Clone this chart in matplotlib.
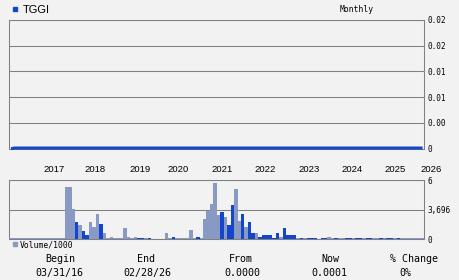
import matplotlib
matplotlib.use('Agg')
import matplotlib.pyplot as plt
import matplotlib.ticker as mticker
from matplotlib.patches import Rectangle
import numpy as np

# --- data (monthly, 03/2016 .. 02/2026) ---
symbol = "TGGI"
price = [
    0.0000, 0.0001, 0.0001, 0.0001, 0.0001, 0.0001, 0.0001, 0.0001, 0.0001, 0.0001, 0.0001, 0.0001,
    0.0001, 0.0001, 0.0001, 0.0001, 0.0001, 0.0001, 0.0001, 0.0001, 0.0001, 0.0001, 0.0001, 0.0001,
    0.0001, 0.0001, 0.0001, 0.0001, 0.0001, 0.0001, 0.0001, 0.0001, 0.0001, 0.0001, 0.0001, 0.0001,
    0.0001, 0.0001, 0.0001, 0.0001, 0.0001, 0.0001, 0.0001, 0.0001, 0.0001, 0.0001, 0.0001, 0.0001,
    0.0001, 0.0001, 0.0001, 0.0001, 0.0001, 0.0001, 0.0001, 0.0001, 0.0001, 0.0001, 0.0001, 0.0001,
    0.0001, 0.0001, 0.0001, 0.0001, 0.0001, 0.0001, 0.0001, 0.0001, 0.0001, 0.0001, 0.0001, 0.0001,
    0.0001, 0.0001, 0.0001, 0.0001, 0.0001, 0.0001, 0.0001, 0.0001, 0.0001, 0.0001, 0.0001, 0.0001,
    0.0001, 0.0001, 0.0001, 0.0001, 0.0001, 0.0001, 0.0001, 0.0001, 0.0001, 0.0001, 0.0001, 0.0001,
    0.0001, 0.0001, 0.0001, 0.0001, 0.0001, 0.0001, 0.0001, 0.0001, 0.0001, 0.0001, 0.0001, 0.0001,
    0.0001, 0.0001, 0.0001, 0.0001, 0.0001, 0.0001, 0.0001, 0.0001, 0.0001, 0.0001, 0.0001, 0.0001,
]
volume = [  # volume / 1000
    89, 89, 89, 89, 89, 89, 89, 89, 89, 89, 89, 89, 89, 89, 89, 89,
    6579, 6579, 3770, 2070, 1700, 1035, 444, 2144, 1552, 3179,
    1922, 813, 148, 296, 148, 89, 89, 1404, 296, 89,
    296, 89, 89, 89, 148, 59, 59, 59, 59, 813,
    89, 296, 74, 74, 74, 74, 1183, 89, 296, 89,
    2513, 3548, 4435, 7022, 3031, 3326, 2809, 1700, 4287, 6283,
    2292, 3179, 1552, 2070, 813, 813, 296, 444, 444, 444,
    148, 813, 296, 1331, 444, 444, 517, 148, 148, 89,
    74, 74, 74, 59, 74, 148, 222, 148, 74, 74,
    111, 74, 89, 74, 89, 89, 74, 111, 111, 74,
    89, 111, 74, 89, 89, 74, 111, 74, 111, 111,
    111, 111, 111, 111,
]
direction = ("DDDDDDDDDDDDDDDD"
             "DDDUDUUDDD" "UDDDDDDDDD" "DUUDUDDDDD" "DUDDDDDDUD"
             "DDDDDUDUUD" "DUDUUDUUUU" "UUDUUUUDUD" "UUUDUUDDUD"
             "DUUDUUDUUD" "DUDUUDUDDD" "DDDD")
years = ["2017", "2018", "2019", "2020", "2021", "2022", "2023", "2024", "2025", "2026"]
year_pos = [12.9, 24.9, 37.7, 48.8, 61.6, 74.1, 86.6, 99.2, 111.7, 122.0]
price_ticks = [0, 0.004, 0.008, 0.012, 0.016, 0.02]
vol_ticks = [0, 3696, 7392]
vol_labels = ["0", "3,696", "6"]
summary_heads = ["Begin", "End", "From", "Now", "% Change"]
summary_vals = ["03/31/16", "02/28/26", "0.0000", "0.0001", "0%"]

BG = "#f2f2f2"
GRID = "#808080"
C_UP = "#1446cc"
C_DN = "#8899c4"
C_LINE = "#1446cc"
MONO = "DejaVu Sans Mono"

n = len(volume)
x = np.arange(n) + 0.5
bar_colors = [C_UP if d == "U" else C_DN for d in direction]

fig = plt.figure(figsize=(4.6, 2.8), dpi=100, facecolor=BG)

# --- price panel ---
ax = fig.add_axes([0.0202, 0.469, 0.9022, 0.4596], facecolor=BG)
ax.plot(x, price, color=C_LINE, lw=2.2, solid_capstyle="butt", zorder=3, clip_on=False)
ax.set_xlim(0, n)
ax.set_ylim(0, 0.02)
ax.set_yticks(price_ticks)
ax.yaxis.set_major_formatter(mticker.FuncFormatter(lambda v, _: "0" if v == 0 else f"{v:.2f}"))
ax.yaxis.tick_right()
ax.tick_params(axis="y", length=0, pad=2.5, labelsize=5.6, labelfontfamily=MONO)
ax.set_xticks([])
ax.grid(axis="y", color=GRID, lw=0.75)
for s in ax.spines.values():
    s.set_color(GRID)
    s.set_linewidth(0.75)

# --- volume panel ---
av = fig.add_axes([0.0202, 0.1464, 0.9022, 0.2107], facecolor=BG)
av.bar(x, volume, width=1.0, color=bar_colors, linewidth=0, zorder=3)
av.set_xlim(0, n)
av.set_ylim(0, vol_ticks[-1])
av.set_yticks(vol_ticks)
av.set_yticklabels(vol_labels)
av.yaxis.tick_right()
av.tick_params(axis="y", length=0, pad=2.5, labelsize=5.6, labelfontfamily=MONO)
av.set_xticks([])
av.grid(axis="y", color=GRID, lw=0.75, zorder=1)
for s in av.spines.values():
    s.set_color(GRID)
    s.set_linewidth(0.75)

for yr, p in zip(years, year_pos):
    av.text(p, 1.18, yr, transform=av.get_xaxis_transform(), ha="center", va="center",
            fontsize=6.8, family="Liberation Sans", clip_on=False)

# --- legends / header ---
fig.patches.append(Rectangle((0.0283, 0.9607), 0.0087, 0.0143, color=C_UP, transform=fig.transFigure))
fig.text(0.050, 0.966, symbol, ha="left", va="center", fontsize=8, family="Liberation Sans")
fig.text(0.739, 0.966, "Monthly", ha="left", va="center", fontsize=5.8, family=MONO)
fig.patches.append(Rectangle((0.0283, 0.1214), 0.0087, 0.0143, color=C_DN, transform=fig.transFigure))
fig.text(0.0435, 0.125, "Volume/1000", ha="left", va="center", fontsize=5.8, family=MONO)

# --- summary row ---
head_x = [60.7, 146.3, 241.3, 330.3, 414.3]
val_x = [59.7, 147.7, 242.0, 329.5, 405.5]
for h, hx in zip(summary_heads, head_x):
    fig.text(hx / 460, 1 - 259 / 280, h, ha="center", va="center", fontsize=7.2, family=MONO)
for v, vx in zip(summary_vals, val_x):
    fig.text(vx / 460, 1 - 273 / 280, v, ha="center", va="center", fontsize=7.2, family=MONO)

fig.savefig("out.png", dpi=100, facecolor=BG)
